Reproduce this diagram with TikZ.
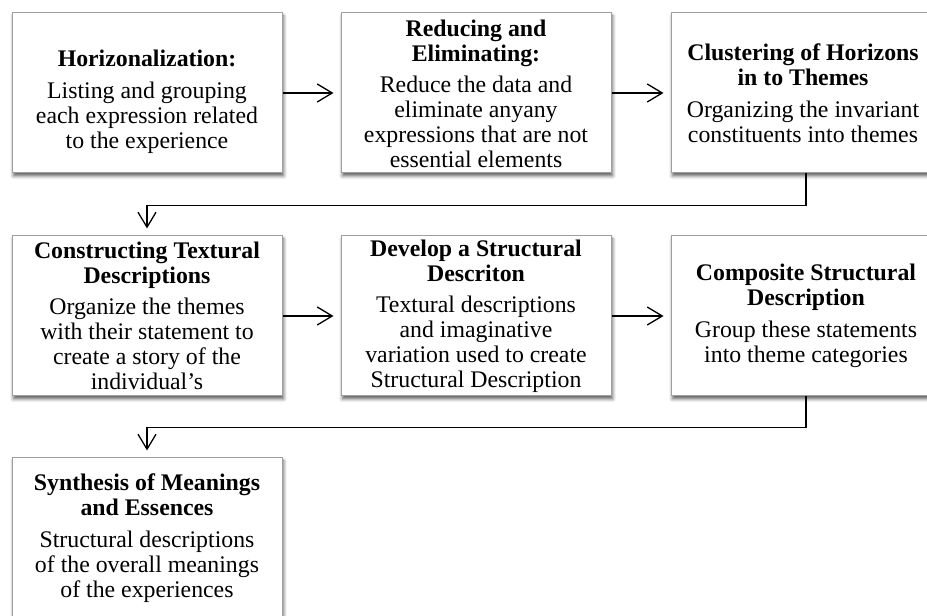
\documentclass[tikz,border=0pt]{standalone}
\usepackage{fontspec}
\setmainfont{Liberation Serif}
\usetikzlibrary{arrows.meta,shadows.blur}

% bold heading line
\newcommand\headline[1]{\textbf{#1}}

\begin{document}
\begin{tikzpicture}[x=1pt,y=1pt,
  stepbox/.style={draw=gray!75, line width=1pt, fill=white,
    minimum width=270pt, minimum height=160pt, inner sep=0pt,
    blur shadow={shadow xshift=1.5pt, shadow yshift=-3pt,
      shadow blur radius=3.5pt, shadow opacity=65}},
  boxtext/.style={align=center, inner sep=0pt,
    font=\fontsize{23.8}{25}\selectfont},
  flow/.style={line width=1.3pt,
    -{Straight Barb[length=15pt,width=18pt]}, shorten >=7pt}]
\useasboundingbox (0,0) rectangle (927,616);
\clip (0,0) rectangle (927,616);

% step boxes
\node[stepbox] (b1) at (147,523) {};
\node[stepbox] (b2) at (476,523) {};
\node[stepbox] (b3) at (806,523) {};
\node[stepbox] (b4) at (147,300) {};
\node[stepbox] (b5) at (476,300) {};
\node[stepbox] (b6) at (806,300) {};
\node[stepbox] (b7) at (147,78) {};

% box texts
\node[boxtext] (t1) at ([yshift=-9pt]b1.center)
  {\headline{Horizonalization:}\\[7pt]Listing and grouping\\each expression related\\to the experience};
\node[boxtext] (t2) at ([yshift=-1pt]b2.center)
  {\headline{Reducing and}\\\headline{Eliminating:}\\[6pt]Reduce the data and\\eliminate anyany\\expressions that are not\\essential elements};
\node[boxtext] (t3) at ([xshift=-3pt]b3.center)
  {\headline{Clustering of Horizons}\\\headline{in to Themes}\\[7pt]Organizing the invariant\\constituents into themes};
\node[boxtext] (t4) at (b4.center)
  {\headline{Constructing Textural}\\\headline{Descriptions}\\[6pt]Organize the themes\\with their statement to\\create a story of the\\individual’s};
\node[boxtext] (t5) at (b5.center)
  {\headline{Develop a Structural}\\\headline{Descriton}\\[6pt]Textural descriptions\\and imaginative\\variation used to create\\Structural Description};
\node[boxtext] (t6) at (b6.center)
  {\headline{Composite Structural}\\\headline{Description}\\[7pt]Group these statements\\into theme categories};
\node[boxtext] (t7) at (b7.center)
  {\headline{Synthesis of Meanings}\\\headline{and Essences}\\[7pt]Structural descriptions\\of the overall meanings\\of the experiences};

% connectors
\draw[flow] (b1.east) -- (b2.west);
\draw[flow] (b2.east) -- (b3.west);
\draw[flow] (b3.south) -- ++(0,-32) -| (b4.north);
\draw[flow] (b4.east) -- (b5.west);
\draw[flow] (b5.east) -- (b6.west);
\draw[flow] (b6.south) -- ++(0,-31) -| (b7.north);
\end{tikzpicture}
\end{document}
